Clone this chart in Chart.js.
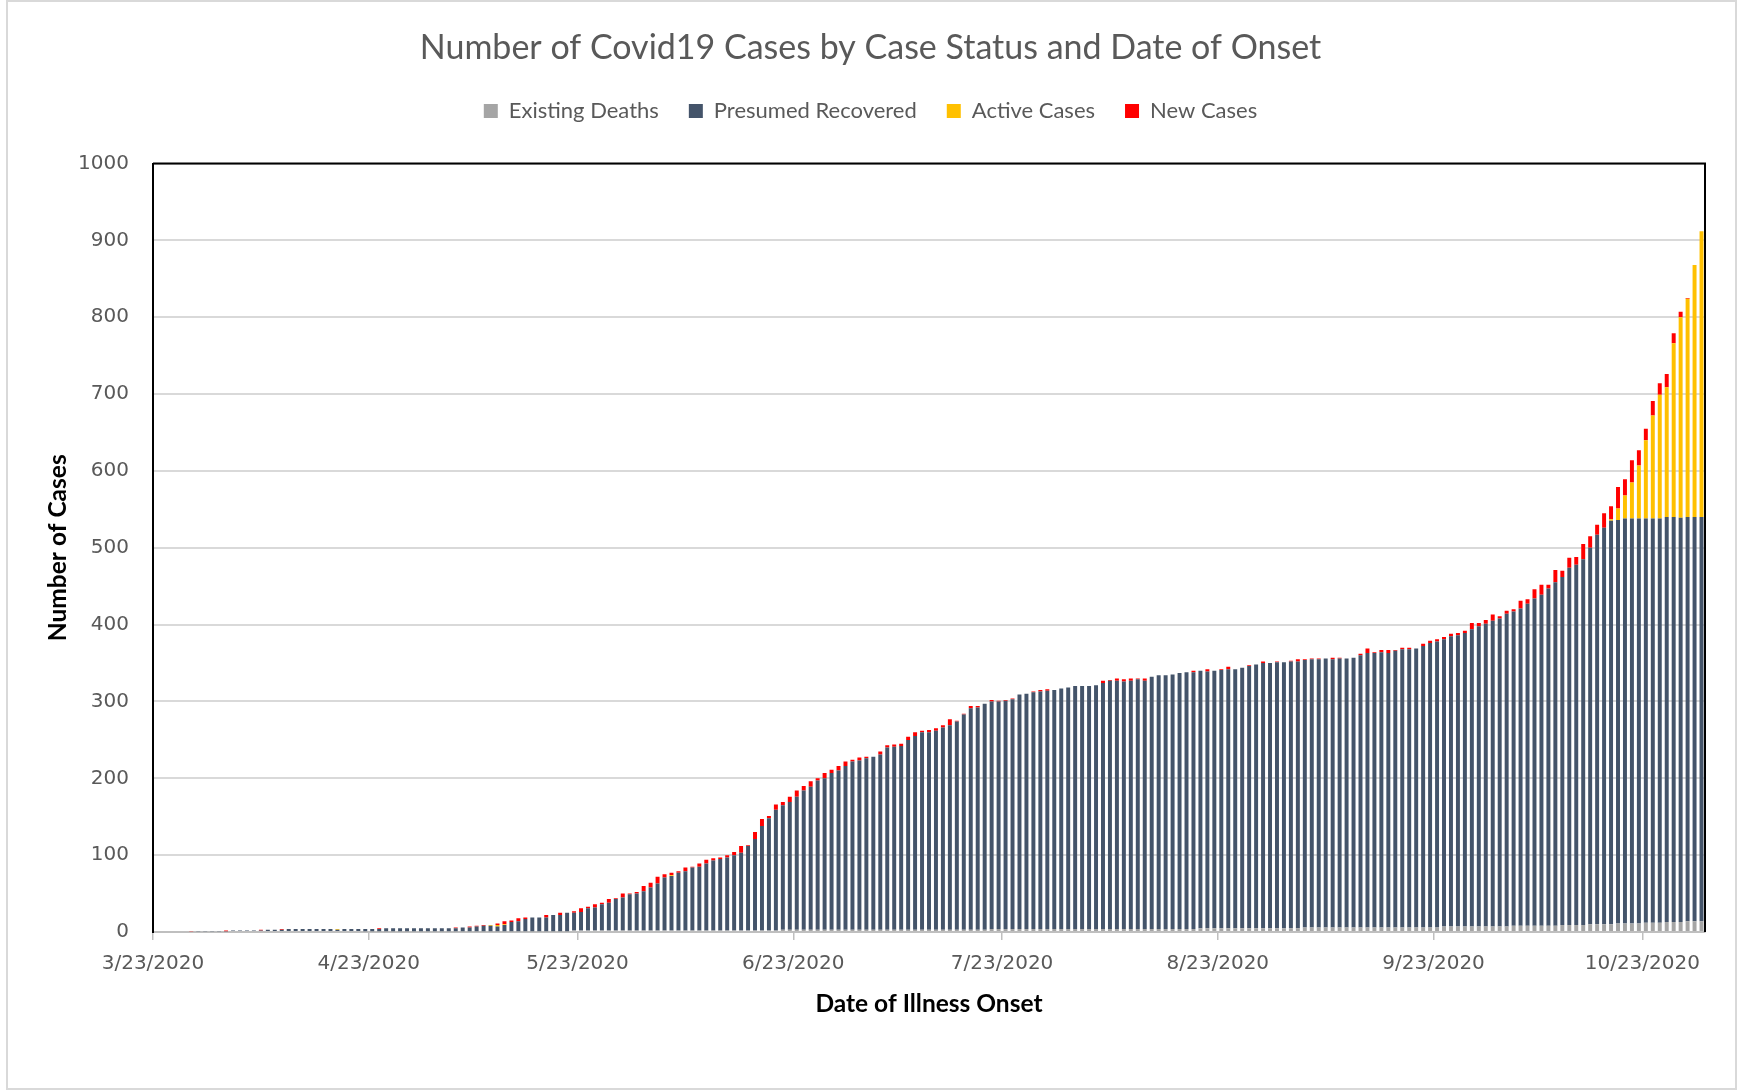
<!DOCTYPE html>
<html lang="en">

<head>
  <meta charset="UTF-8" />
  <title>Number of Covid19 Cases by Case Status and Date of Onset</title>
  <script src="https://cdn.jsdelivr.net/npm/chart.js"></script>
  <style>
    body {
      margin: 0;
      background-color: #ffffff;
      overflow: hidden;
    }
    .chart-box {
      position: relative;
      width: 1737px;
      height: 1091px;
    }
  </style>
</head>

<body>
  <div class="chart-box">
    <canvas id="casesChart"></canvas>
  </div>

  <script>
    // one bar per day of illness onset, 3/23/2020 .. 10/31/2020
    const firstDay = [2020, 2, 23];
    const dayCount = 223;
    const tickDates = ['3/23/2020', '4/23/2020', '5/23/2020', '6/23/2020', '7/23/2020', '8/23/2020', '9/23/2020', '10/23/2020'];

    const existingDeaths = [
      0, 0, 0, 0, 0, 0, 0, 0, 0, 0,
      0, 0, 0, 0, 0, 0, 0, 0, 0, 0,
      0, 0, 0, 0, 0, 0, 0, 0, 0, 0,
      1, 1, 1, 1, 1, 1, 1, 1, 1, 1,
      1, 1, 1, 1, 1, 1, 1, 1, 1, 1,
      1, 1, 1, 1, 1, 1, 1, 1, 1, 1,
      2, 2, 2, 2, 2, 2, 2, 2, 2, 2,
      2, 2, 2, 2, 2, 2, 2, 2, 2, 2,
      2, 2, 2, 2, 2, 2, 2, 2, 2, 2,
      3, 3, 3, 3, 3, 3, 3, 3, 3, 3,
      3, 3, 3, 3, 3, 3, 3, 3, 3, 3,
      3, 3, 3, 3, 3, 3, 3, 3, 3, 3,
      4, 4, 4, 4, 4, 4, 4, 4, 4, 4,
      4, 4, 4, 4, 4, 4, 4, 4, 4, 4,
      4, 4, 4, 4, 4, 4, 4, 4, 4, 4,
      5, 5, 5, 5, 5, 5, 5, 5, 5, 5,
      5, 5, 5, 5, 5, 6, 6, 6, 6, 6,
      6, 6, 6, 6, 6, 6, 6, 6, 6, 6,
      6, 6, 6, 6, 6, 7, 7, 7, 7, 7,
      7, 7, 7, 7, 7, 8, 8, 8, 8, 8,
      8, 8, 9, 9, 9, 9, 10, 10, 10, 10,
      11, 11, 11, 11, 12, 12, 12, 13, 13, 13,
      14, 14, 14
    ];

    const presumedRecovered = [
      0, 0, 0, 0, 0, 0, 1, 1, 1, 1,
      1, 2, 2, 2, 2, 2, 3, 3, 3, 4,
      4, 4, 4, 4, 4, 4, 3, 4, 4, 4,
      3, 3, 3, 4, 4, 4, 4, 4, 4, 4,
      4, 4, 4, 4, 5, 5, 6, 7, 7, 6,
      8, 12, 13, 16, 18, 18, 18, 21, 21, 24,
      23, 24, 29, 30, 34, 36, 41, 43, 47, 48,
      51, 56, 61, 69, 71, 75, 77, 82, 83, 87,
      91, 93, 95, 98, 101, 110, 119, 136, 146, 157,
      162, 166, 173, 181, 186, 194, 197, 204, 207, 213,
      219, 220, 223, 225, 228, 237, 238, 239, 247, 252,
      257, 257, 259, 263, 266, 271, 280, 288, 289, 294,
      296, 296, 297, 299, 305, 306, 308, 309, 310, 311,
      313, 314, 316, 316, 316, 317, 320, 323, 323, 322,
      323, 325, 323, 328, 330, 330, 331, 333, 334, 334,
      335, 334, 335, 336, 337, 337, 339, 341, 343, 345,
      345, 346, 346, 347, 347, 348, 349, 349, 350, 349,
      350, 350, 351, 354, 357, 357, 358, 357, 360, 362,
      362, 363, 366, 370, 372, 374, 378, 379, 382, 387,
      391, 394, 398, 401, 407, 409, 413, 419, 426, 431,
      439, 447, 453, 465, 469, 476, 490, 507, 516, 525,
      525, 527, 527, 527, 526, 526, 526, 527, 527, 526,
      526, 526, 526
    ];

    const activeCases = [
      0, 0, 0, 0, 0, 0, 0, 0, 0, 0,
      0, 0, 0, 0, 0, 0, 0, 0, 0, 0,
      0, 0, 0, 0, 0, 0, 1, 0, 0, 0,
      0, 0, 0, 0, 0, 0, 0, 0, 0, 0,
      0, 0, 0, 0, 0, 0, 0, 0, 1, 2,
      1, 0, 0, 0, 0, 0, 0, 0, 0, 0,
      0, 0, 0, 0, 0, 0, 0, 0, 0, 0,
      0, 0, 0, 0, 1, 0, 0, 0, 0, 0,
      0, 0, 0, 0, 0, 0, 0, 0, 0, 0,
      0, 0, 0, 0, 0, 0, 0, 0, 0, 0,
      0, 0, 0, 0, 0, 0, 0, 0, 0, 0,
      0, 0, 0, 0, 0, 0, 0, 0, 0, 0,
      0, 0, 0, 0, 0, 0, 0, 0, 0, 0,
      0, 0, 0, 0, 0, 0, 0, 0, 0, 0,
      0, 0, 0, 0, 0, 0, 0, 0, 0, 0,
      0, 0, 0, 0, 0, 0, 0, 0, 0, 0,
      0, 0, 0, 0, 0, 0, 0, 0, 0, 0,
      0, 0, 0, 0, 0, 0, 0, 0, 0, 0,
      0, 0, 0, 0, 0, 0, 0, 0, 0, 0,
      0, 0, 0, 0, 0, 0, 0, 0, 0, 0,
      0, 0, 0, 0, 0, 0, 0, 0, 0, 2,
      15, 30, 47, 69, 102, 134, 161, 169, 226, 261,
      284, 328, 372
    ];

    const newCases = [
      0, 0, 0, 0, 0, 1, 0, 0, 0, 0,
      1, 0, 0, 0, 0, 1, 0, 0, 1, 0,
      0, 0, 0, 0, 0, 0, 0, 0, 0, 0,
      0, 0, 1, 0, 0, 0, 0, 0, 0, 0,
      0, 0, 0, 1, 0, 1, 1, 1, 0, 2,
      4, 2, 4, 2, 0, 0, 3, 0, 3, 0,
      2, 5, 2, 4, 2, 5, 1, 5, 1, 2,
      7, 6, 9, 4, 3, 2, 5, 1, 4, 5,
      3, 2, 3, 4, 9, 1, 9, 9, 3, 7,
      4, 7, 8, 6, 7, 3, 7, 4, 6, 6,
      2, 4, 2, 0, 4, 3, 3, 3, 4, 5,
      2, 3, 3, 3, 8, 1, 1, 3, 2, 0,
      2, 1, 1, 1, 0, 0, 1, 2, 2, 0,
      0, 0, 0, 0, 0, 0, 3, 1, 3, 3,
      3, 1, 3, 0, 0, 0, 0, 0, 0, 2,
      0, 3, 0, 1, 3, 0, 0, 1, 0, 2,
      0, 1, 0, 1, 3, 1, 1, 1, 0, 2,
      1, 0, 0, 2, 6, 1, 3, 4, 1, 2,
      2, 0, 3, 3, 3, 3, 3, 3, 3, 8,
      4, 5, 8, 3, 4, 3, 10, 6, 12, 13,
      5, 16, 8, 13, 10, 20, 15, 13, 19, 17,
      28, 21, 29, 20, 15, 19, 15, 17, 13, 7,
      1, 0, 0
    ];

    // category labels m/d/yyyy
    const days = [];
    for (let i = 0; i < dayCount; i++) {
      const d = new Date(firstDay[0], firstDay[1], firstDay[2] + i);
      days.push((d.getMonth() + 1) + '/' + d.getDate() + '/' + d.getFullYear());
    }

    // white page + light outer frame, black frame on top/right of plot
    const frames = {
      id: 'frames',
      beforeDraw(chart) {
        const { ctx, width, height } = chart;
        ctx.save();
        ctx.fillStyle = '#ffffff';
        ctx.fillRect(0, 0, width, height);
        ctx.strokeStyle = '#d9d9d9';
        ctx.lineWidth = 2;
        ctx.strokeRect(7, 1, width - 8, height - 3);
        ctx.restore();
      },
      afterDraw(chart) {
        const { ctx, chartArea: a } = chart;
        ctx.save();
        ctx.strokeStyle = '#000000';
        ctx.lineWidth = 2;
        ctx.beginPath();
        ctx.moveTo(a.left, a.top);
        ctx.lineTo(a.right, a.top);
        ctx.lineTo(a.right, a.bottom);
        ctx.stroke();
        ctx.restore();
      }
    };

    // extra room between legend and plot
    const legendGap = {
      id: 'legendGap',
      beforeInit(chart) {
        const fit = chart.legend.fit;
        chart.legend.fit = function () {
          fit.call(this);
          this.height += 31.5;
        };
      }
    };

    Chart.defaults.font.family = 'Lato, "Open Sans", sans-serif';

    new Chart(document.getElementById('casesChart'), {
      type: 'bar',
      data: {
        labels: days,
        datasets: [
          { label: 'Existing Deaths', data: existingDeaths, backgroundColor: '#a5a5a5' },
          { label: 'Presumed Recovered', data: presumedRecovered, backgroundColor: '#44546a' },
          { label: 'Active Cases', data: activeCases, backgroundColor: '#ffc000' },
          { label: 'New Cases', data: newCases, backgroundColor: '#ff0000' }
        ]
      },
      options: {
        responsive: true,
        maintainAspectRatio: false,
        animation: false,
        layout: { padding: { left: 36, right: 32, top: 0, bottom: 0 } },
        datasets: {
          bar: { barPercentage: 0.57, categoryPercentage: 1.0, borderWidth: 0 }
        },
        plugins: {
          title: {
            display: true,
            text: 'Number of Covid19 Cases by Case Status and Date of Onset',
            color: '#595959',
            font: { size: 34, weight: 'normal', lineHeight: 1.0 },
            padding: { top: 31.5, bottom: 4.5 }
          },
          legend: {
            position: 'top',
            labels: {
              color: '#595959',
              font: { size: 22 },
              boxWidth: 14,
              boxHeight: 14,
              padding: 30
            }
          },
          tooltip: { enabled: false }
        },
        scales: {
          x: {
            stacked: true,
            afterFit(scale) { scale.height = 159; },
            grid: {
              display: true,
              drawOnChartArea: false,
              drawTicks: true,
              tickLength: 8,
              lineWidth: 1.5,
              tickColor: ctx => (ctx.tick && ctx.tick.label) ? '#bfbfbf' : 'rgba(0,0,0,0)'
            },
            border: { color: '#bfbfbf', width: 2 },
            ticks: {
              autoSkip: false,
              maxRotation: 0,
              padding: 12,
              labelOffset: -3.5,
              color: '#595959',
              font: { family: '"DejaVu Sans"', size: 20 },
              callback(value) {
                const lbl = this.getLabelForValue(value);
                return tickDates.includes(lbl) ? lbl : '';
              }
            },
            title: {
              display: true,
              text: 'Date of Illness Onset',
              color: '#000000',
              font: { size: 24.5, weight: 'bold' },
              padding: { top: 0, bottom: 72.5 }
            }
          },
          y: {
            stacked: true,
            min: 0,
            max: 1000,
            afterFit(scale) { scale.width = 117; },
            grid: { color: '#d9d9d9', lineWidth: 2, drawTicks: false },
            border: { color: '#000000', width: 2 },
            ticks: {
              stepSize: 100,
              padding: 24,
              color: '#595959',
              font: { family: '"DejaVu Sans"', size: 20 },
              callback: value => String(value)
            },
            title: {
              display: true,
              text: 'Number of Cases',
              color: '#000000',
              font: { size: 24.5, weight: 'bold' },
              padding: { top: 7, bottom: 0 }
            }
          }
        }
      },
      plugins: [frames, legendGap]
    });
  </script>
</body>

</html>
